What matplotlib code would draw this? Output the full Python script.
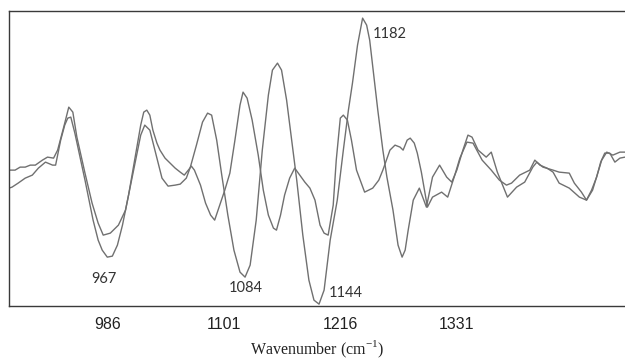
import matplotlib
matplotlib.use('Agg')
import matplotlib.pyplot as plt

# spectrum 1 (wavenumber, intensity)
wn_a = [889, 895, 900, 905, 910, 915, 922, 927, 933, 937,
        943, 948, 952, 956, 964, 971, 977, 982, 989, 997,
        1004, 1012, 1019, 1023, 1028, 1033, 1040, 1046, 1053, 1058,
        1064, 1068, 1074, 1080, 1085, 1089, 1094, 1099, 1105, 1111,
        1117, 1122, 1127, 1133, 1139, 1145, 1149, 1154, 1158, 1163,
        1168, 1173, 1179, 1185, 1190, 1195, 1200, 1206, 1213, 1219,
        1224, 1228, 1233, 1238, 1242, 1245, 1249, 1253, 1258, 1262,
        1268, 1273, 1277, 1280, 1283, 1288, 1294, 1301, 1307, 1314,
        1321, 1326, 1331, 1337, 1342, 1346, 1352, 1360, 1365, 1371,
        1381, 1390, 1398, 1406, 1410, 1416, 1426, 1432, 1442, 1447,
        1454, 1459, 1465, 1474, 1479, 1485, 1492, 1497]
int_a = [-0.10, -0.10, -0.07, -0.07, -0.05, -0.05, 0.00, 0.03, 0.02, 0.10,
         0.33, 0.53, 0.48, 0.23, -0.13, -0.43, -0.63, -0.75, -0.73, -0.65,
         -0.50, -0.10, 0.25, 0.35, 0.30, 0.10, -0.18, -0.26, -0.25, -0.24,
         -0.18, -0.07, 0.15, 0.38, 0.47, 0.45, 0.20, -0.15, -0.55, -0.90,
         -1.12, -1.17, -1.05, -0.60, 0.10, 0.65, 0.90, 0.97, 0.90, 0.60,
         0.20, -0.20, -0.75, -1.20, -1.40, -1.44, -1.30, -0.80, -0.40, 0.10,
         0.50, 0.77, 1.15, 1.42, 1.35, 1.20, 0.85, 0.50, 0.10, -0.17,
         -0.50, -0.85, -0.97, -0.90, -0.70, -0.40, -0.28, -0.47, -0.17, -0.05,
         -0.17, -0.22, -0.10, 0.10, 0.25, 0.23, 0.10, 0.03, 0.08, -0.12,
         -0.37, -0.27, -0.22, -0.07, -0.02, -0.07, -0.10, -0.12, -0.13, -0.23,
         -0.32, -0.40, -0.30, 0.00, 0.08, 0.05, 0.08, 0.08]

# spectrum 2
wn_b = [889, 892, 898, 905, 912, 918, 925, 932, 935, 940,
        944, 947, 950, 954, 964, 972, 977, 981, 986, 991,
        996, 1001, 1007, 1013, 1019, 1022, 1025, 1028, 1031, 1035,
        1038, 1043, 1048, 1053, 1058, 1062, 1066, 1069, 1072, 1078,
        1083, 1088, 1092, 1097, 1102, 1107, 1112, 1117, 1120, 1124,
        1129, 1135, 1140, 1145, 1150, 1153, 1157, 1161, 1166, 1171,
        1176, 1181, 1186, 1191, 1196, 1200, 1204, 1209, 1212, 1216,
        1219, 1223, 1227, 1232, 1240, 1248, 1254, 1258, 1265, 1270,
        1275, 1278, 1282, 1285, 1289, 1292, 1296, 1302, 1307, 1316,
        1322, 1329, 1334, 1341, 1347, 1356, 1365, 1373, 1380, 1385,
        1393, 1403, 1408, 1413, 1420, 1426, 1432, 1442, 1452, 1459,
        1464, 1469, 1473, 1477, 1482, 1487, 1492, 1497]
int_b = [-0.28, -0.27, -0.23, -0.18, -0.15, -0.08, -0.02, -0.05, -0.05, 0.20,
         0.35, 0.42, 0.43, 0.27, -0.20, -0.60, -0.80, -0.90, -0.97, -0.96,
         -0.85, -0.65, -0.35, 0.00, 0.35, 0.48, 0.50, 0.45, 0.30, 0.17,
         0.10, 0.02, -0.03, -0.08, -0.12, -0.15, -0.10, -0.06, -0.10, -0.25,
         -0.43, -0.55, -0.60, -0.45, -0.30, -0.13, 0.20, 0.55, 0.68, 0.62,
         0.40, 0.05, -0.30, -0.55, -0.68, -0.70, -0.55, -0.35, -0.18, -0.08,
         -0.15, -0.22, -0.28, -0.40, -0.65, -0.73, -0.75, -0.45, 0.00, 0.42,
         0.45, 0.40, 0.20, -0.10, -0.32, -0.28, -0.20, -0.10, 0.10, 0.15,
         0.13, 0.10, 0.20, 0.22, 0.17, 0.07, -0.12, -0.47, -0.37, -0.32,
         -0.37, -0.15, 0.02, 0.18, 0.17, 0.00, -0.10, -0.20, -0.25, -0.23,
         -0.15, -0.10, 0.00, -0.05, -0.08, -0.12, -0.23, -0.28, -0.37, -0.40,
         -0.30, -0.17, -0.02, 0.07, 0.07, -0.02, 0.02, 0.03]

tick_pos = [986, 1101, 1216, 1331]
peak_labels = ['967', '1084', '1144', '1182']
peak_x = [983, 1123, 1221, 1265]
peak_y = [-1.19, -1.28, -1.33, 1.26]

fig = plt.figure(figsize=(6.25, 3.61), dpi=100)
ax = fig.add_axes([0.0144, 0.152, 0.9856, 0.8172])

ax.plot(wn_a, int_a, color='#707070', lw=1.0, solid_joinstyle='round')
ax.plot(wn_b, int_b, color='#707070', lw=1.0, solid_joinstyle='round')

for lab, x, y in zip(peak_labels, peak_x, peak_y):
    ax.text(x, y, lab, ha='center', va='center', fontsize=10.5,
            family='Lato', color='#333333')

ax.set_xlim(889, 1497)
ax.set_ylim(-1.46, 1.49)
ax.set_xticks(tick_pos)
ax.set_xticklabels([str(t) for t in tick_pos], family='Liberation Sans',
                   fontsize=11.5, color='#222222')
ax.set_yticks([])
ax.tick_params(axis='x', length=0, pad=8)
ax.set_xlabel(r'Wavenumber (cm$^{\mathregular{-1}}$)', family='Liberation Serif',
              fontsize=11.5, color='#222222', labelpad=5)

for s in ['top', 'left', 'bottom']:
    ax.spines[s].set_color('#3a3a3a')
    ax.spines[s].set_linewidth(1.0)
ax.spines['right'].set_visible(False)

fig.savefig('out.png', dpi=100)
